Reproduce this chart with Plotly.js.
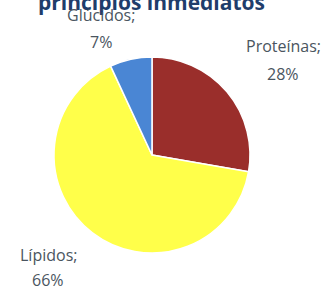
<!DOCTYPE html>
<html><head><meta charset="utf-8">
<script src="https://cdn.plot.ly/plotly-3.0.1.min.js"></script>
<style>html,body{margin:0;padding:0;background:#fff;}#chart{width:328px;height:289px;}</style>
</head><body><div id="chart"></div>
<script>
const categories = ["Proteínas", "Lípidos", "Glúcidos"];
const percents = [28, 66, 7];
const colors = ["#9A2E2B", "#FFFF4A", "#4A86D4"];
const titleText = "principios inmediatos";

const labelPos = [
  {x: 283, y1: 46, y2: 74},
  {x: 48, y1: 255, y2: 280},
  {x: 101, y1: 15, y2: 42}
];
const W = 328, H = 289;
const annotations = [];
annotations.push({xref:'paper', yref:'paper', x: 151 / W, y: 1 - 2 / H, text: '<b>' + titleText + '</b>', showarrow:false, xanchor:'center', yanchor:'middle', font:{family:'Open Sans, sans-serif', size:21, color:'#1F3D6B'}});
categories.forEach((c, i) => {
  const p = labelPos[i];
  annotations.push({xref:'paper', yref:'paper', x: p.x / W, y: 1 - p.y1 / H, text: c + ';', showarrow:false, xanchor:'center', yanchor:'middle', font:{family:'Open Sans, sans-serif', size:16, color:'#4A5560'}});
  annotations.push({xref:'paper', yref:'paper', x: p.x / W, y: 1 - p.y2 / H, text: percents[i] + '%', showarrow:false, xanchor:'center', yanchor:'middle', font:{family:'Open Sans, sans-serif', size:16, color:'#4A5560'}});
});

Plotly.newPlot('chart', [{
  type: 'pie',
  labels: categories,
  values: percents,
  sort: false,
  direction: 'clockwise',
  rotation: 0,
  textinfo: 'none',
  hoverinfo: 'none',
  marker: {colors: colors, line: {color: '#ffffff', width: 1.5}},
  domain: {x: [54 / W, 250 / W], y: [1 - 253 / H, 1 - 57 / H]}
}], {
  width: W, height: H,
  margin: {l:0, r:0, t:0, b:0},
  showlegend: false,
  paper_bgcolor: '#ffffff',
  annotations: annotations
}, {displayModeBar: false, staticPlot: true});
</script></body></html>
